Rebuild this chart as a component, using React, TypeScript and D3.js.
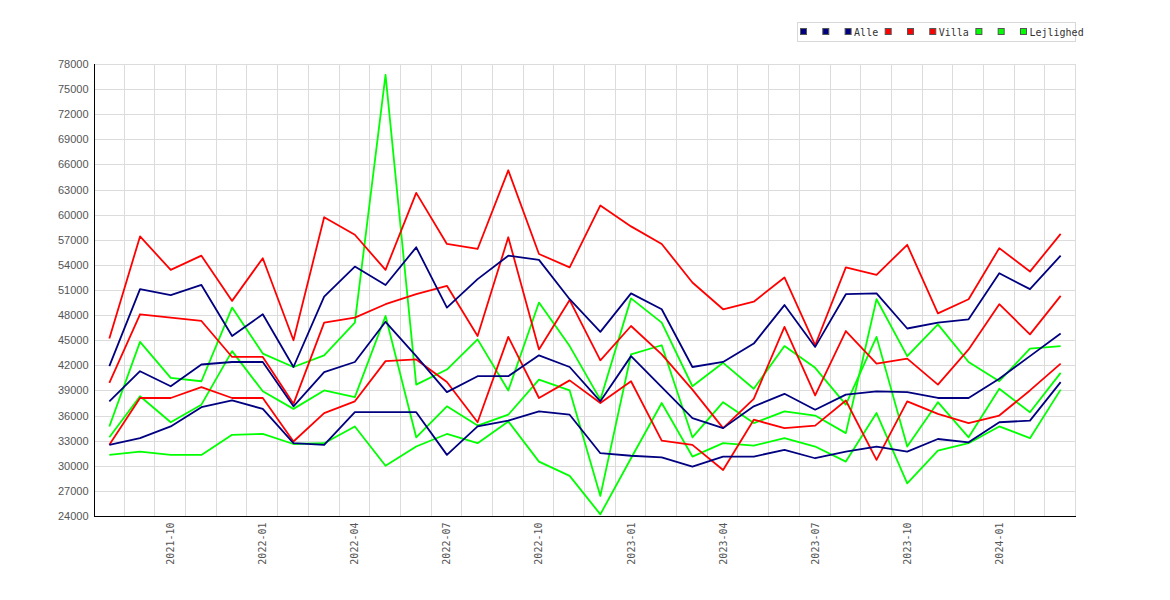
import { useEffect, useRef } from 'react'
import * as d3 from 'd3'

// months on the x axis (2021-08 .. 2024-03)
const MONTHS = [
  '2021-08', '2021-09', '2021-10', '2021-11', '2021-12',
  '2022-01', '2022-02', '2022-03', '2022-04', '2022-05', '2022-06',
  '2022-07', '2022-08', '2022-09', '2022-10', '2022-11', '2022-12',
  '2023-01', '2023-02', '2023-03', '2023-04', '2023-05', '2023-06',
  '2023-07', '2023-08', '2023-09', '2023-10', '2023-11', '2023-12',
  '2024-01', '2024-02', '2024-03',
]

const X_LABELS = [
  '2021-10', '2022-01', '2022-04', '2022-07', '2022-10',
  '2023-01', '2023-04', '2023-07', '2023-10', '2024-01',
]

const Y_TICKS = [
  24000, 27000, 30000, 33000, 36000, 39000, 42000, 45000, 48000,
  51000, 54000, 57000, 60000, 63000, 66000, 69000, 72000, 75000, 78000,
]

// Alle
const ALLE_HIGH = [
  41900, 51100, 50400, 51600, 45500, 48100, 41800, 50200, 53800, 51600, 56100,
  48900, 52300, 55100, 54600, 49900, 46000, 50600, 48700, 41800, 42400, 44600,
  49200, 44200, 50500, 50600, 46400, 47100, 47500, 53000, 51100, 55100,
]
const ALLE_MID = [
  37700, 41300, 39500, 42100, 42400, 42400, 37100, 41200, 42400, 47200, 43100,
  38800, 40700, 40700, 43200, 41800, 37700, 43100, 39400, 35700, 34500, 37100,
  38600, 36700, 38500, 38900, 38800, 38100, 38100, 40400, 43100, 45800,
]
const ALLE_LOW = [
  32500, 33300, 34700, 37000, 37800, 36800, 32700, 32500, 36400, 36400, 36400,
  31300, 34700, 35400, 36500, 36100, 31500, 31200, 31000, 29900, 31100, 31100,
  31900, 30900, 31700, 32300, 31700, 33200, 32800, 35200, 35400, 40000,
]

// Villa
const VILLA_HIGH = [
  45200, 57400, 53400, 55100, 49700, 54800, 45000, 59700, 57600, 53400, 62600,
  56500, 55900, 65300, 55300, 53700, 61100, 58600, 56500, 51900, 48700, 49600,
  52500, 44400, 53700, 52800, 56400, 48200, 49900, 56000, 53200, 57700,
]
const VILLA_MID = [
  39900, 48100, 47700, 47300, 43000, 43000, 37400, 47100, 47700, 49300, 50500,
  51500, 45500, 57300, 43900, 49800, 42600, 46700, 43300, 39100, 34500, 38000,
  46600, 38400, 46100, 42200, 42800, 39700, 43900, 49300, 45700, 50300,
]
const VILLA_LOW = [
  32500, 38100, 38100, 39400, 38100, 38100, 32900, 36300, 37700, 42500, 42700,
  40000, 35200, 45400, 38100, 40200, 37500, 40100, 33000, 32500, 29500, 35500,
  34500, 34800, 37800, 30700, 37700, 36200, 35100, 36000, 39000, 42200,
]

// Lejlighed
const LEJL_A = [
  34700, 44800, 40500, 40100, 48900, 43400, 41800, 43200, 47100, 76700, 39700,
  41500, 45100, 39000, 49500, 44300, 37900, 50000, 47100, 39500, 42300, 39200,
  44300, 41700, 37300, 45400, 32300, 37600, 33400, 39200, 36400, 41100,
]
const LEJL_B = [
  33400, 38300, 35200, 37300, 43700, 38900, 36800, 39000, 38200, 47900, 33400,
  37100, 34800, 36100, 40300, 39000, 26400, 43300, 44400, 33400, 37600, 35100,
  36500, 36000, 33900, 49900, 43100, 46900, 42400, 40100, 44000, 44300,
]
const LEJL_C = [
  31300, 31700, 31300, 31300, 33700, 33800, 32600, 32700, 34700, 30000, 32300,
  33800, 32700, 35300, 30500, 28800, 24200, 30900, 37500, 31100, 32700, 32400,
  33300, 32300, 30500, 36300, 27900, 31800, 32700, 34700, 33300, 39100,
]

const NAVY = '#000080'
const RED = '#ff0000'
const GREEN = '#00ff00'

// drawing order: Lejlighed first, Alle on top
const SERIES = [
  { color: GREEN, values: LEJL_A },
  { color: GREEN, values: LEJL_B },
  { color: GREEN, values: LEJL_C },
  { color: RED, values: VILLA_HIGH },
  { color: RED, values: VILLA_MID },
  { color: RED, values: VILLA_LOW },
  { color: NAVY, values: ALLE_HIGH },
  { color: NAVY, values: ALLE_MID },
  { color: NAVY, values: ALLE_LOW },
]

const LEGEND = [
  { label: '', color: NAVY },
  { label: '', color: NAVY },
  { label: 'Alle', color: NAVY },
  { label: '', color: RED },
  { label: '', color: RED },
  { label: 'Villa', color: RED },
  { label: '', color: GREEN },
  { label: '', color: GREEN },
  { label: 'Lejlighed', color: GREEN },
]

const FONT = '"DejaVu Sans Mono", monospace'
const TICK_FONT = '"Liberation Sans", Arial, sans-serif'

export default function App() {
  const svgRef = useRef<SVGSVGElement>(null)

  useEffect(() => {
    if (!svgRef.current) return
    const width = 1170
    const height = 600
    const left = 94
    const right = 1076
    const top = 64
    const bottom = 516

    const svg = d3.select(svgRef.current)
    svg.selectAll('*').remove()

    svg.append('rect').attr('width', width).attr('height', height).attr('fill', '#ffffff')

    const x = d3.scaleBand<string>().domain(MONTHS).range([left, right])
    const y = d3.scaleLinear().domain([24000, 78000]).range([bottom, top])
    const cx = (i: number) => (x(MONTHS[i]) as number) + x.bandwidth() / 2

    // grid
    const grid = svg.append('g').attr('stroke', '#dcdcdc').attr('stroke-width', 1)
    Y_TICKS.forEach((v) => {
      const yy = Math.round(y(v)) + 0.5
      grid.append('line').attr('x1', left).attr('x2', right).attr('y1', yy).attr('y2', yy)
    })
    const edges = MONTHS.slice(1).map((m) => x(m) as number).concat([right])
    edges.forEach((e) => {
      const xx = Math.round(e) - 0.5
      grid.append('line').attr('x1', xx).attr('x2', xx).attr('y1', top).attr('y2', bottom)
    })

    // series lines
    const line = d3
      .line<number>()
      .x((_, i) => cx(i))
      .y((d) => y(d))
    const lines = svg.append('g')
    SERIES.forEach((s) => {
      lines
        .append('path')
        .attr('d', line(s.values) as string)
        .attr('fill', 'none')
        .attr('stroke', s.color)
        .attr('stroke-width', 1.8)
        .attr('stroke-linejoin', 'round')
    })

    // y axis
    const yAxis = svg
      .append('g')
      .attr('transform', `translate(${left + 0.5},0)`)
      .call(d3.axisLeft(y).tickValues(Y_TICKS).tickSize(0).tickPadding(6).tickFormat(d3.format('d')))
    yAxis.select('.domain').remove()
    yAxis
      .selectAll('text')
      .attr('font-family', TICK_FONT)
      .attr('font-size', 11)
      .attr('fill', '#555')

    // x axis
    const xAxis = svg
      .append('g')
      .attr('transform', `translate(0,${bottom + 0.5})`)
      .call(d3.axisBottom(x).tickValues(X_LABELS).tickSize(0))
    xAxis.select('.domain').remove()
    xAxis
      .selectAll('text')
      .attr('transform', 'rotate(-90)')
      .attr('text-anchor', 'end')
      .attr('x', -6)
      .attr('y', 0)
      .attr('dy', '0.35em')
      .attr('font-family', FONT)
      .attr('font-size', 10)
      .attr('fill', '#555')

    // axis lines
    svg.append('line')
      .attr('x1', left + 0.5).attr('x2', left + 0.5)
      .attr('y1', top).attr('y2', bottom + 1)
      .attr('stroke', '#000')
    svg.append('line')
      .attr('x1', left).attr('x2', right)
      .attr('y1', bottom + 0.5).attr('y2', bottom + 0.5)
      .attr('stroke', '#000')

    // legend
    const legend = svg.append('g')
    legend
      .append('rect')
      .attr('x', 797.5)
      .attr('y', 22.5)
      .attr('width', 278)
      .attr('height', 19)
      .attr('fill', '#fff')
      .attr('stroke', '#d8d8d8')
    let cursor = 800.5
    LEGEND.forEach((item) => {
      legend
        .append('rect')
        .attr('x', cursor)
        .attr('y', 28.5)
        .attr('width', 6)
        .attr('height', 6)
        .attr('fill', item.color)
        .attr('stroke', '#555')
      if (item.label) {
        legend
          .append('text')
          .attr('x', cursor + 9)
          .attr('y', 35.5)
          .attr('font-family', FONT)
          .attr('font-size', 10)
          .attr('fill', '#333')
          .text(item.label)
        cursor += 16 + item.label.length * 6.02
      } else {
        cursor += 22.3
      }
    })
  }, [])

  return (
    <svg
      ref={svgRef}
      width={1170}
      height={600}
      style={{ position: 'absolute', left: 0, top: 0 }}
    />
  )
}
